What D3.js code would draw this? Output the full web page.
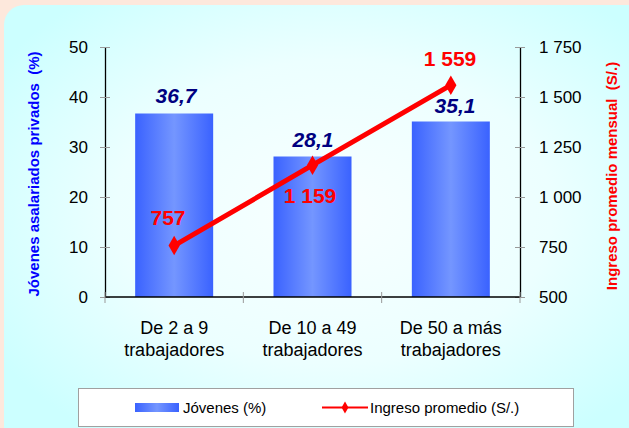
<!DOCTYPE html>
<html>
<head>
<meta charset="utf-8">
<script src="https://cdn.jsdelivr.net/npm/d3@7"></script>
<style>
  body { margin: 0; background: #fde8dc; }
  svg { display: block; font-family: "Liberation Sans", Arial, sans-serif; }
</style>
</head>
<body>
<svg id="chart" width="629" height="428"></svg>
<script>
var categorias = [["De 2 a 9", "trabajadores"], ["De 10 a 49", "trabajadores"], ["De 50 a más", "trabajadores"]];
var jovenes = [36.7, 28.1, 35.1];
var ingreso = [757, 1159, 1559];
var jovenesLabels = ["36,7", "28,1", "35,1"];
var ingresoLabels = ["757", "1 159", "1 559"];
var leftTicks = [0, 10, 20, 30, 40, 50];
var rightTicks = [500, 750, 1000, 1250, 1500, 1750];

var svg = d3.select("#chart");
var defs = svg.append("defs");

var bg = defs.append("radialGradient").attr("id", "bg")
    .attr("cx", "50%").attr("cy", "45%").attr("r", "60%");
bg.append("stop").attr("offset", "0%").attr("stop-color", "#f8ffff");
bg.append("stop").attr("offset", "55%").attr("stop-color", "#ecffff");
bg.append("stop").attr("offset", "100%").attr("stop-color", "#ccffff");

var barGrad = defs.append("linearGradient").attr("id", "barGrad")
    .attr("x1", "0%").attr("x2", "100%").attr("y1", "0%").attr("y2", "0%");
barGrad.append("stop").attr("offset", "0%").attr("stop-color", "#3a62ff");
barGrad.append("stop").attr("offset", "50%").attr("stop-color", "#7496ff");
barGrad.append("stop").attr("offset", "100%").attr("stop-color", "#3a62ff");

// panel
svg.append("rect").attr("x", 4).attr("y", 5).attr("width", 660).attr("height", 460)
    .attr("rx", 20).attr("fill", "url(#bg)");

var x0 = 105, x1 = 520, yTop = 47, yBot = 297;

var x = d3.scaleBand().domain(d3.range(categorias.length)).range([x0, x1]);
var yL = d3.scaleLinear().domain([0, 50]).range([yBot, yTop]);
var yR = d3.scaleLinear().domain([500, 1750]).range([yBot, yTop]);

// bars
svg.selectAll("rect.bar").data(jovenes).enter().append("rect")
    .attr("class", "bar")
    .attr("x", function(d, i) { return x(i) + x.bandwidth() / 2 - 39; })
    .attr("width", 78)
    .attr("y", function(d) { return yL(d); })
    .attr("height", function(d) { return yBot - yL(d); })
    .attr("fill", "url(#barGrad)");

// axes
function styleAxis(g) {
    g.select(".domain").attr("stroke", "#000").attr("stroke-width", 1.3);
    g.selectAll(".tick line").attr("stroke", "#999");
    g.selectAll(".tick text").attr("fill", "#000").style("font-size", "17px");
}

var leftAxis = svg.append("g").attr("transform", "translate(" + x0 + ",0)")
    .call(d3.axisLeft(yL).tickValues(leftTicks).tickSizeInner(5).tickSizeOuter(0).tickPadding(12));
leftAxis.selectAll(".tick line").attr("x2", 5).attr("x1", -5);
styleAxis(leftAxis);

var rightAxis = svg.append("g").attr("transform", "translate(" + x1 + ",0)")
    .call(d3.axisRight(yR).tickValues(rightTicks).tickSizeInner(5).tickSizeOuter(0).tickPadding(14)
        .tickFormat(function(d) { return d3.format(",")(d).replace(",", " "); }));
rightAxis.selectAll(".tick line").attr("x1", -5).attr("x2", 5);
styleAxis(rightAxis);

var bottomAxis = svg.append("g").attr("transform", "translate(0," + yBot + ")")
    .call(d3.axisBottom(x).tickValues([]).tickSizeOuter(0));
bottomAxis.select(".domain").attr("stroke", "#000").attr("stroke-width", 1.5)
    .attr("d", "M" + x0 + ",0H" + x1);
var sep = [x0, x0 + x.bandwidth(), x0 + 2 * x.bandwidth(), x1];
bottomAxis.selectAll("line.sep").data(sep).enter().append("line")
    .attr("x1", function(d) { return d; }).attr("x2", function(d) { return d; })
    .attr("y1", -5).attr("y2", 6).attr("stroke", "#999");

// category labels
svg.selectAll("text.cat").data(categorias).enter().append("text")
    .attr("class", "cat")
    .attr("text-anchor", "middle")
    .style("font-size", "18px")
    .attr("fill", "#000")
    .each(function(d, i) {
        var t = d3.select(this);
        d.forEach(function(line, k) {
            t.append("tspan").attr("x", x(i) + x.bandwidth() / 2).attr("y", 334 + k * 22).text(line);
        });
    });

// line
var line = d3.line()
    .x(function(d, i) { return x(i) + x.bandwidth() / 2; })
    .y(function(d) { return yR(d); });
svg.append("path").datum(ingreso).attr("d", line)
    .attr("fill", "none").attr("stroke", "#ff0000").attr("stroke-width", 5);
svg.selectAll("path.mk").data(ingreso).enter().append("path")
    .attr("class", "mk")
    .attr("d", d3.symbol().type(d3.symbolDiamond).size(110))
    .attr("transform", function(d, i) { return "translate(" + (x(i) + x.bandwidth() / 2) + "," + yR(d) + ")"; })
    .attr("fill", "#ff0000");

// bar value labels
var barLabelPos = [[176, 103], [313, 147], [455, 113]];
svg.selectAll("text.bl").data(jovenesLabels).enter().append("text")
    .attr("class", "bl")
    .attr("x", function(d, i) { return barLabelPos[i][0]; })
    .attr("y", function(d, i) { return barLabelPos[i][1]; })
    .attr("text-anchor", "middle")
    .style("font-size", "21px").style("font-weight", "bold").style("font-style", "italic")
    .attr("fill", "#000080")
    .text(function(d) { return d; });

// line value labels
var lineLabelPos = [[168, 225], [310, 203], [450, 66]];
svg.selectAll("text.ll").data(ingresoLabels).enter().append("text")
    .attr("class", "ll")
    .attr("x", function(d, i) { return lineLabelPos[i][0]; })
    .attr("y", function(d, i) { return lineLabelPos[i][1]; })
    .attr("text-anchor", "middle")
    .style("font-size", "21px").style("font-weight", "bold")
    .attr("fill", "#ff0000")
    .text(function(d) { return d; });

// axis titles
svg.append("text")
    .attr("transform", "translate(39," + ((yTop + yBot) / 2 + 2) + ") rotate(-90)")
    .attr("text-anchor", "middle")
    .style("font-size", "15px").style("font-weight", "bold")
    .attr("fill", "#0000ff")
    .attr("xml:space", "preserve")
    .text("Jóvenes asalariados privados  (%)");
svg.append("text")
    .attr("transform", "translate(617," + ((yTop + yBot) / 2 + 4) + ") rotate(-90)")
    .attr("text-anchor", "middle")
    .style("font-size", "15px").style("font-weight", "bold")
    .attr("fill", "#ff0000")
    .attr("xml:space", "preserve")
    .text("Ingreso promedio mensual  (S/.)");

// legend
var lg = svg.append("g");
lg.append("rect").attr("x", 78.5).attr("y", 388.5).attr("width", 495).attr("height", 38)
    .attr("fill", "#fff").attr("stroke", "#a0a0a0").attr("stroke-width", 1);
lg.append("rect").attr("x", 135).attr("y", 403).attr("width", 44).attr("height", 9)
    .attr("fill", "url(#barGrad)");
lg.append("text").attr("x", 183).attr("y", 413).style("font-size", "15px").attr("fill", "#000")
    .text("Jóvenes (%)");
lg.append("line").attr("x1", 322).attr("x2", 368).attr("y1", 407.5).attr("y2", 407.5)
    .attr("stroke", "#ff0000").attr("stroke-width", 2);
lg.append("path").attr("d", d3.symbol().type(d3.symbolDiamond).size(40))
    .attr("transform", "translate(345,407.5)").attr("fill", "#ff0000");
lg.append("text").attr("x", 370).attr("y", 413).style("font-size", "15px").attr("fill", "#000")
    .text("Ingreso promedio (S/.)");
</script>
</body>
</html>
